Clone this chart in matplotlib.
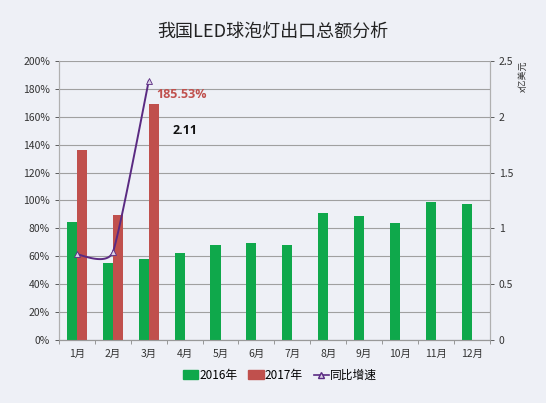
import numpy as np
import matplotlib
matplotlib.use('Agg')
import matplotlib.pyplot as plt
from matplotlib.lines import Line2D
from matplotlib.patches import Patch

plt.rcParams['font.family'] = ['Noto Sans CJK SC', 'DejaVu Sans']

# 数据
months = ['1月', '2月', '3月', '4月', '5月', '6月', '7月', '8月', '9月', '10月', '11月', '12月']
v2016 = [1.06, 0.69, 0.73, 0.78, 0.85, 0.87, 0.85, 1.14, 1.11, 1.05, 1.24, 1.22]  # 亿美元
v2017 = [1.70, 1.12, 2.11]
growth = [61.5, 63.0, 185.53]  # 同比增速 %

green = '#0FA84B'
red = '#C0504D'
purple = '#5A2A82'
bg = '#EEF0F6'

fig = plt.figure(figsize=(5.46, 4.03), dpi=100, facecolor=bg)
ax2 = fig.add_axes([0.108, 0.156, 0.789, 0.693])
ax = ax2.twinx()
# 左轴在上层（折线），右轴放柱子
ax.yaxis.tick_left()
ax.yaxis.set_label_position('left')
ax2.yaxis.tick_right()
ax2.yaxis.set_label_position('right')
ax.set_zorder(ax2.get_zorder() + 1)
ax.patch.set_visible(False)
ax2.set_facecolor(bg)

x = np.arange(len(months))
w = 0.28
ax2.bar(x - w / 2, v2016, w, color=green, zorder=3)
ax2.bar(x[:len(v2017)] + w / 2, v2017, w, color=red, zorder=3)
ax2.set_ylim(0, 2.5)
ax2.set_yticks([0, 0.5, 1, 1.5, 2, 2.5])
ax2.set_yticklabels(['0', '0.5', '1', '1.5', '2', '2.5'])
ax2.set_yticks(np.arange(0, 2.51, 0.25), minor=True)
ax2.grid(axis='y', which='both', color='#A0A0A0', linewidth=0.8, zorder=0)
ax2.tick_params(axis='y', which='major', labelsize=7.5, colors='#444444', length=3, width=0.6,
                labelcolor='#333333')
ax2.tick_params(axis='y', which='minor', length=0)

# 横轴
ax2.set_xticks(x)
ax2.set_xticklabels(months)
ax2.set_xticks(np.arange(-0.5, len(months), 1), minor=True)
ax2.tick_params(axis='x', which='major', length=0, labelsize=7.5, labelcolor='#333333', pad=6)
ax2.tick_params(axis='x', which='minor', length=3, width=0.6, colors='#888888')
ax2.set_xlim(-0.5, len(months) - 0.5)

ax.set_ylim(0, 200)
ax.set_xlim(-0.5, len(months) - 0.5)

# 平滑折线（像 Excel 那样在屏幕坐标里做参数平滑）
pts = ax.transData.transform(np.column_stack([x[:len(growth)], growth]))
k = 0.25
curve = []
n = len(pts)
t = np.linspace(0, 1, 50)[:, None]
h00 = 2 * t**3 - 3 * t**2 + 1
h10 = t**3 - 2 * t**2 + t
h01 = -2 * t**3 + 3 * t**2
h11 = t**3 - t**2
for i in range(n - 1):
    m1 = k * (pts[i + 1] - pts[max(i - 1, 0)])
    m2 = k * (pts[min(i + 2, n - 1)] - pts[i])
    curve.append(h00 * pts[i] + h10 * m1 + h01 * pts[i + 1] + h11 * m2)
curve = ax.transData.inverted().transform(np.vstack(curve))
ax.plot(curve[:, 0], curve[:, 1], color=purple, linewidth=1.4, zorder=5)
ax.plot(x[:len(growth)], growth, linestyle='none', marker='^', markersize=4, mfc='#D8D0E4',
        mec=purple, mew=0.6, zorder=6)

ax.set_yticks(np.arange(0, 201, 20))
ax.set_yticklabels([f'{v}%' for v in range(0, 201, 20)])
ax.tick_params(axis='y', labelsize=7.5, labelcolor='#333333', colors='#444444', length=3, width=0.6)

for a in (ax, ax2):
    a.spines['top'].set_visible(False)
    a.spines['left'].set_color('#B0B0B0')
    a.spines['right'].set_color('#B0B0B0')
    a.spines['bottom'].set_color('#999999')

ax.text(2.22, 176, '185.53%', color=red, fontsize=9, fontweight='bold',
        ha='left', va='center', family=['Open Sans', 'DejaVu Sans'])
ax.text(2.66, 150, '2.11', color='#111111', fontsize=9, fontweight='bold',
        ha='left', va='center', family=['Open Sans', 'DejaVu Sans'])

fig.text(0.5, 0.92, '我国LED球泡灯出口总额分析', ha='center', va='center', fontsize=13, color='#222222')
fig.text(0.958, 0.81, 'x亿美元', rotation=90, ha='center', va='center', fontsize=6.5, color='#333333')

handles = [Patch(color=green, label='2016年'), Patch(color=red, label='2017年'),
           Line2D([0], [0], color=purple, marker='^', markersize=4, mfc='#D8D0E4', mec=purple,
                  linewidth=1.2, label='同比增速')]
fig.legend(handles=handles, loc='center', bbox_to_anchor=(0.513, 0.069), ncol=3, frameon=False,
           fontsize=8.5, handlelength=1.3, handleheight=0.7, handletextpad=0.1, columnspacing=0.9)

fig.savefig('out.png', dpi=100, facecolor=bg)
